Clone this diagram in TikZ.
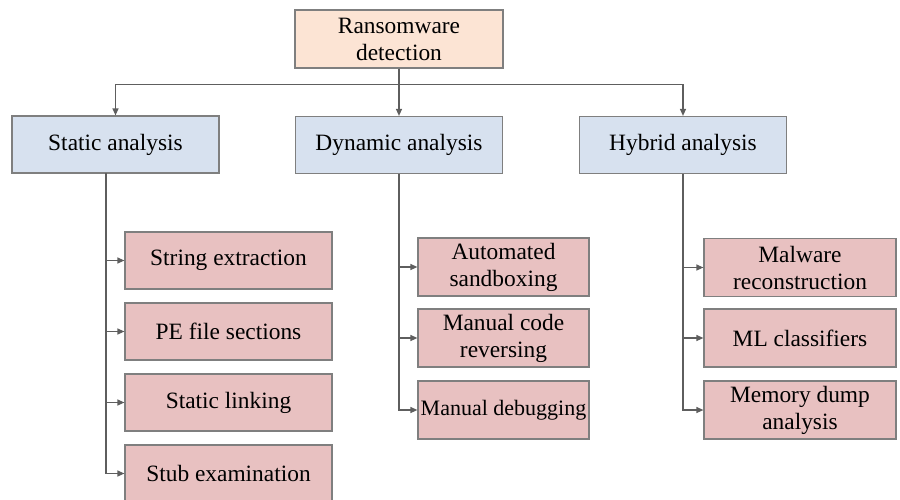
\documentclass[tikz,border=0pt]{standalone}
\usepackage{fontspec}
\setmainfont{Liberation Serif}
\usetikzlibrary{arrows.meta}

\definecolor{rootfill}{HTML}{FCE4D4}
\definecolor{catfill}{HTML}{D7E1EF}
\definecolor{leaffill}{HTML}{E8C1C1}
\definecolor{boxline}{HTML}{7F7F7F}
\definecolor{conline}{HTML}{5E5E5E}

\tikzset{
    box/.style={draw=boxline, line width=1.2pt, inner sep=0pt, align=center,
        font=\fontsize{23.4}{27}\selectfont},
    rootbox/.style={box, fill=rootfill, minimum width=208pt, minimum height=58pt},
    catbox/.style={box, fill=catfill, minimum width=207pt, minimum height=57pt},
    leafbox/.style={box, fill=leaffill, minimum height=57pt},
    con/.style={draw=conline, line width=1.2pt,
        -{Triangle[length=7pt,width=6pt]}}
}

\begin{document}
\begin{tikzpicture}[x=1pt,y=-1pt]
    \clip (0,0) rectangle (900,499);

    \node[rootbox] (root) at (399,39) {Ransomware\\detection};

    \node[catbox] (static) at (115.5,144.5) {Static analysis};
    \node[catbox] (dynamic) at (399,145) {Dynamic analysis};
    \node[catbox] (hybrid) at (683,145) {Hybrid analysis};

    \draw[con] (root.south) -- ++(0,16) -| (static.north);
    \draw[con] (root.south) -- (dynamic.north);
    \draw[con] (root.south) -- ++(0,16) -| (hybrid.north);

    % static branch
    \coordinate (st) at (106,173);
    \foreach \y/\name/\txt in {260.5/se/String extraction, 331.5/pe/PE file sections,
        402.5/sl/Static linking, 473.5/sb/Stub examination} {
        \node[leafbox, minimum width=207pt] (\name) at (228.5,\y) {\txt};
        \draw[con] (st) |- (\name.west);
    }

    % dynamic branch
    \foreach \y/\name/\txt in {267/as/Automated\\sandboxing, 338/mr/Manual code\\reversing,
        410/md/{\fontsize{22}{27}\selectfont Manual debugging}} {
        \node[leafbox, minimum width=171pt, minimum height=58pt] (\name) at (503.5,\y) {\txt};
        \draw[con] (dynamic.south) |- (\name.west);
    }

    % hybrid branch
    \foreach \y/\name/\txt in {267.5/mw/Malware\\reconstruction, 338/ml/ML classifiers,
        410/mem/Memory dump\\analysis} {
        \node[leafbox, minimum width=192pt, minimum height=58pt] (\name) at (800,\y) {\txt};
        \draw[con] (hybrid.south) |- (\name.west);
    }
\end{tikzpicture}
\end{document}
